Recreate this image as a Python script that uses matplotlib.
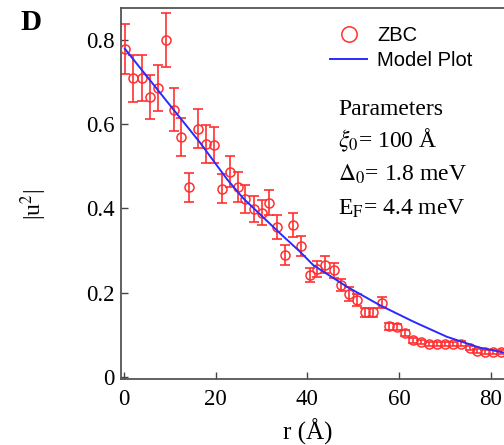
import matplotlib
matplotlib.use("Agg")
import matplotlib.pyplot as plt

plt.rcParams['mathtext.fontset'] = 'stix'
plt.rcParams['font.family'] = ['Liberation Serif', 'DejaVu Serif']

# ---- data ----
r = [0.3, 2.0, 3.85, 5.6, 7.35, 9.1, 10.9, 12.5, 14.25, 16.1, 17.8, 19.6, 21.4,
     23.05, 24.8, 26.5, 28.3, 30.0, 31.7, 33.4, 35.2, 36.9, 38.7, 40.5, 42.2,
     43.9, 45.8, 47.3, 49.0, 50.8, 52.6, 54.4, 56.2, 57.9, 59.5, 61.3, 63.1,
     64.9, 66.5, 68.25, 70.0, 71.8, 73.5, 75.4, 77.1, 78.7, 80.4, 82.2]
u2 = [0.778, 0.709, 0.709, 0.665, 0.686, 0.800, 0.634, 0.569, 0.450, 0.589,
      0.552, 0.550, 0.447, 0.487, 0.451, 0.422, 0.398, 0.390, 0.413, 0.356,
      0.289, 0.360, 0.310, 0.242, 0.257, 0.266, 0.253, 0.218, 0.196, 0.182,
      0.153, 0.153, 0.176, 0.120, 0.117, 0.103, 0.087, 0.082, 0.078, 0.077,
      0.077, 0.077, 0.078, 0.068, 0.061, 0.059, 0.058, 0.058]
u2_err = [0.060, 0.056, 0.055, 0.052, 0.054, 0.064, 0.051, 0.045, 0.035, 0.046,
          0.045, 0.043, 0.035, 0.037, 0.035, 0.033, 0.031, 0.030, 0.030, 0.028,
          0.024, 0.028, 0.024, 0.017, 0.019, 0.020, 0.018, 0.015, 0.016, 0.014,
          0.010, 0.010, 0.013, 0.008, 0.007, 0.007, 0.006, 0.005, 0.005, 0.005,
          0.005, 0.005, 0.006, 0.005, 0.005, 0.005, 0.005, 0.005]

model_r = [0.2, 9.3, 16.6, 22.5, 26.0, 34.0, 38.4, 41.3, 48.6, 55.8, 63.1,
           70.4, 77.6, 83.0]
model_u2 = [0.779, 0.655, 0.556, 0.469, 0.424, 0.341, 0.297, 0.265, 0.214,
            0.170, 0.131, 0.095, 0.069, 0.057]

xticks = [0, 20, 40, 60, 80]
yticks = [0, 0.2, 0.4, 0.6, 0.8]
ytick_labels = ['0', '0.2', '0.4', '0.6', '0.8']

W, H = 504, 445
fig = plt.figure(figsize=(W / 100, H / 100), dpi=100)

def fx(px):
    return px / W

def fy(py):
    return 1 - py / H

ax = fig.add_axes([fx(121), fy(379), fx(504) - fx(121), fy(8) - fy(379)])

red = '#ff3030'
ax.errorbar(r, u2, yerr=u2_err, fmt='none', ecolor=red, elinewidth=1.2,
            capsize=3.5, capthick=1.2, zorder=2)
ax.plot(r, u2, linestyle='none', marker='o', markersize=6.5,
        markerfacecolor='none', markeredgecolor=red, markeredgewidth=1.1,
        label='ZBC', zorder=3)
ax.plot(model_r, model_u2, color='#2a2aff', linewidth=1.4, label='Model Plot',
        zorder=4)

ax.set_xlim(-0.65, 82.9)
ax.set_ylim(-0.0055, 0.876)
ax.set_xticks(xticks)
ax.set_xticklabels([str(t) for t in xticks])
ax.set_yticks(yticks)
ax.set_yticklabels(ytick_labels)
ax.tick_params(direction='in', length=5, width=1.0, color='#444444',
               labelsize=16.5, labelcolor='black')
ax.tick_params(axis='x', pad=7)
ax.tick_params(axis='y', pad=4.5)
for s in ['left', 'bottom', 'top']:
    ax.spines[s].set_color('#555555')
    ax.spines[s].set_linewidth(1.3)
ax.spines['right'].set_visible(False)

leg = ax.legend(loc='upper left', bbox_to_anchor=(fx(330), fy(26)),
                bbox_transform=fig.transFigure, frameon=False,
                prop={'family': 'Liberation Sans', 'size': 14.5},
                markerscale=1.7, handlelength=1.84, handletextpad=0.5,
                labelspacing=0.32, borderpad=0, borderaxespad=0)

pfont = dict(family=['Liberation Serif'], fontsize=17)
fig.text(fx(338), fy(115), 'Parameters', va='baseline', ha='left', **pfont)
fig.text(fx(338), fy(147), r'$\xi_\mathrm{0}$= 100 Å', va='baseline', ha='left', **pfont)
fig.text(fx(338), fy(181), r'$\Delta_\mathrm{0}$= 1.8 meV', va='baseline', ha='left', **pfont)
fig.text(fx(338), fy(215), r'E$_\mathrm{F}$= 4.4 meV', va='baseline', ha='left', **pfont)

fig.text(fx(20), fy(30), 'D', fontsize=21, fontweight='bold', va='baseline',
         ha='left', family=['Liberation Serif'])

fig.text(fx(308), fy(432), 'r (Å)', fontsize=18, ha='center', va='center')
fig.text(fx(34), fy(204), r'|u$^{2}$|', fontsize=17, ha='center', va='center',
         rotation=90)

fig.savefig('out.png', dpi=100)
